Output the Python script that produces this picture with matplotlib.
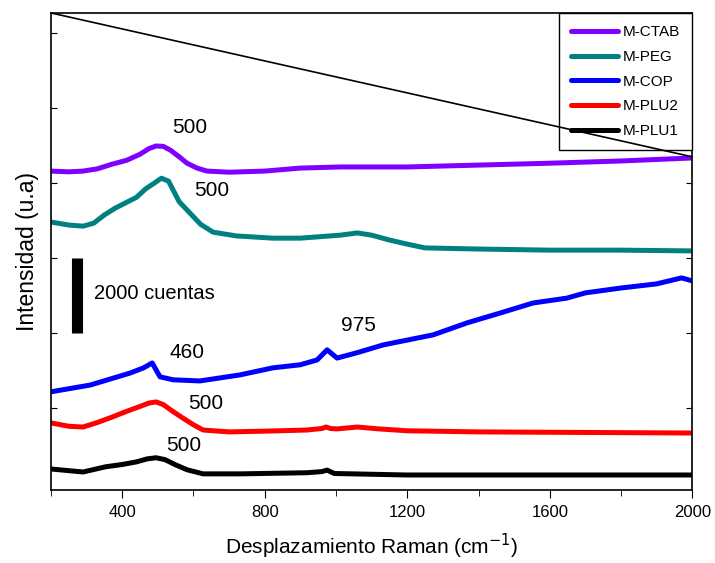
import matplotlib.pyplot as plt

plt.rcParams["font.family"] = ["Liberation Sans", "DejaVu Sans"]

# Raman spectra, offsets already included (counts)
x_ctab = [200, 250, 290, 330, 370, 413, 450, 475, 495, 515, 535, 560, 582, 610, 638, 700, 800, 900, 1012, 1200, 1400, 1600, 1800, 2000]
y_ctab = [8320, 8300, 8320, 8380, 8500, 8610, 8770, 8920, 8990, 8980, 8880, 8700, 8530, 8400, 8320, 8290, 8320, 8400, 8430, 8430, 8480, 8530, 8590, 8670]

x_peg = [200, 250, 290, 320, 350, 380, 413, 440, 465, 490, 510, 530, 560, 590, 620, 655, 720, 823, 900, 1012, 1060, 1100, 1150, 1200, 1250, 1400, 1600, 1800, 2000]
y_peg = [6960, 6880, 6850, 6930, 7150, 7330, 7490, 7620, 7840, 8000, 8130, 8050, 7500, 7200, 6900, 6690, 6590, 6530, 6530, 6610, 6670, 6610, 6480, 6370, 6270, 6240, 6210, 6210, 6190]

x_cop = [200, 310, 422, 460, 484, 506, 543, 618, 730, 823, 899, 947, 975, 1003, 1058, 1132, 1273, 1368, 1460, 1553, 1648, 1700, 1800, 1900, 1970, 2000]
y_cop = [2430, 2610, 2930, 3070, 3200, 2830, 2750, 2720, 2880, 3070, 3150, 3280, 3550, 3330, 3470, 3680, 3950, 4270, 4530, 4800, 4930, 5070, 5200, 5310, 5470, 5390]

x_plu2 = [200, 250, 290, 330, 370, 410, 450, 475, 495, 515, 540, 570, 600, 627, 700, 800, 918, 960, 972, 985, 1003, 1060, 1120, 1200, 1400, 2000]
y_plu2 = [1600, 1510, 1490, 1610, 1750, 1900, 2040, 2130, 2160, 2090, 1920, 1730, 1550, 1410, 1360, 1380, 1410, 1450, 1490, 1450, 1440, 1490, 1440, 1390, 1360, 1330]

x_plu1 = [200, 290, 354, 400, 440, 470, 495, 520, 550, 582, 627, 730, 918, 960, 975, 995, 1200, 2000]
y_plu1 = [370, 290, 430, 490, 560, 640, 670, 620, 480, 350, 240, 240, 270, 300, 340, 250, 210, 210]

series = [
    ("M-CTAB", x_ctab, y_ctab, "#8000ff"),
    ("M-PEG", x_peg, y_peg, "#008080"),
    ("M-COP", x_cop, y_cop, "#0000ff"),
    ("M-PLU2", x_plu2, y_plu2, "#ff0000"),
    ("M-PLU1", x_plu1, y_plu1, "#000000"),
]

# peak labels: text, x, y
peak_text = ["500", "500", "460", "975", "500", "500"]
peak_x = [590, 652, 582, 1062, 635, 573]
peak_y = [9490, 7810, 3470, 4190, 2130, 990]

# stray diagonal line and the 2000-count scale bar
diag_x = [200, 2000]
diag_y = [12540, 8700]
bar_x = [274, 274]
bar_y = [4000, 6000]

fig = plt.figure(figsize=(7.15, 5.63), dpi=100)
ax = fig.add_axes([0.0713, 0.1297, 0.8969, 0.8473])

for name, xs, ys, c in series:
    ax.plot(xs, ys, color=c, lw=3.6, label=name,
            solid_capstyle="round", solid_joinstyle="round")

for t, px, py in zip(peak_text, peak_x, peak_y):
    ax.text(px, py, t, fontsize=15, ha="center", va="center")

ax.plot(bar_x, bar_y, color="black", lw=8, solid_capstyle="butt")
ax.text(322, 5040, "2000 cuentas", fontsize=14.5, ha="left", va="center")

ax.plot(diag_x, diag_y, color="black", lw=1.2, zorder=6, clip_on=False)

ax.set_xlim(200, 2000)
ax.set_ylim(-190, 12540)
ax.set_xticks([400, 800, 1200, 1600, 2000])
ax.set_xticks([200, 600, 1000, 1400, 1800], minor=True)
ax.set_yticks(range(2000, 12001, 2000))
ax.set_yticklabels([])
ax.tick_params(axis="x", which="major", direction="out", length=6, labelsize=12, pad=5)
ax.tick_params(axis="x", which="minor", direction="out", length=4)
ax.tick_params(axis="y", direction="in", length=4, right=True)
for s in ax.spines.values():
    s.set_linewidth(1.2)

ax.set_xlabel("Desplazamiento Raman (cm$^{-1}$)", fontsize=15, labelpad=8)
ax.set_ylabel("Intensidad (u.a)", fontsize=16.5, labelpad=5)

leg = ax.legend(loc="upper right", fontsize=11, frameon=True, fancybox=False,
                edgecolor="black", framealpha=1, handlelength=3.1,
                borderaxespad=0, labelspacing=0.7, borderpad=0.8,
                handletextpad=0.3)
leg.get_frame().set_linewidth(1.0)

fig.savefig("out.png", dpi=100)
